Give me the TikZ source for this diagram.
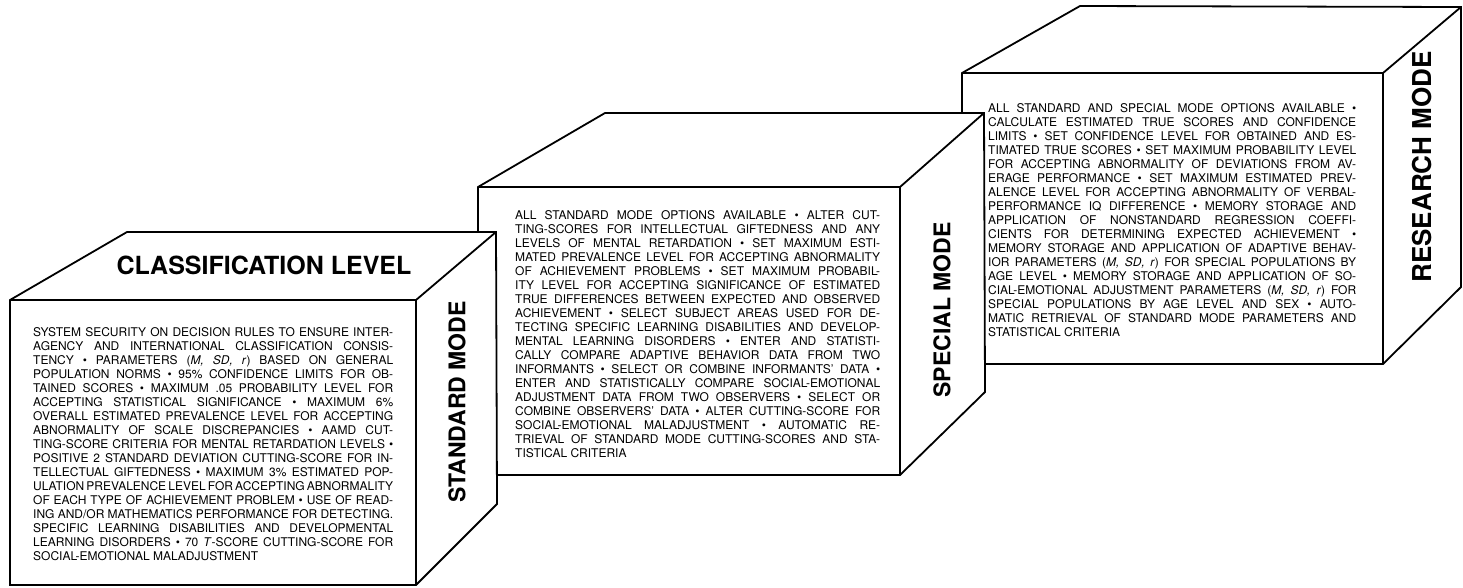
\documentclass[tikz,border=0pt]{standalone}
\usepackage{fontspec}
\setmainfont{TeX Gyre Heros}
\newlength\boxw
\newcommand\jline[1]{\hbox to \boxw{#1}}
\newcommand\lline[1]{\hbox{#1}}
\newcommand\txtset{\fontsize{12}{14}\selectfont\baselineskip=14pt\spaceskip=0.278em plus 1em minus 0.1em\relax}
\newcommand\msr{(\textit{M, SD, r})}
\begin{document}
\begin{tikzpicture}[x=1pt,y=-1pt,
  box/.style={draw, line width=1.8pt, fill=white, line join=miter},
  edge/.style={line width=1.8pt, line join=miter},
  title/.style={font=\fontsize{25}{30}\selectfont\bfseries, inner sep=0},
  mode/.style={font=\fontsize{23}{28}\selectfont\bfseries, rotate=90, inner sep=0},
  body/.style={anchor=base west, inner sep=0}]
\useasboundingbox (0,0) rectangle (1463,587);

% ---------- box 3 : research mode ----------
\coordinate (c3fl) at (962,364);
\coordinate (c3tl) at (962,73);
\coordinate (c3tr) at (1383,73);
\coordinate (c3br) at (1383,364);
\coordinate (c3btl) at (1080,6);
\coordinate (c3btr) at (1461,7);
\coordinate (c3bbr) at (1461,287);
\draw[box] (c3fl) -- (c3tl) -- (c3btl) -- (c3btr) -- (c3bbr) -- (c3br) -- cycle;
\draw[edge] (c3tl) -- (c3tr) -- (c3br);
\draw[edge] (c3tr) -- (c3btr);
\node[mode, font=\fontsize{26}{30}\selectfont\bfseries] (m3) at (1422,167) {RESEARCH MODE};
\node[body] (t3) at (988,112) {\vtop{\txtset\setlength\boxw{368pt}%
\jline{ALL STANDARD AND SPECIAL MODE OPTIONS AVAILABLE •}
\jline{CALCULATE ESTIMATED TRUE SCORES AND CONFIDENCE}
\jline{LIMITS • SET CONFIDENCE LEVEL FOR OBTAINED AND ES-}
\jline{TIMATED TRUE SCORES • SET MAXIMUM PROBABILITY LEVEL}
\jline{FOR ACCEPTING ABNORMALITY OF DEVIATIONS FROM AV-}
\jline{ERAGE PERFORMANCE • SET MAXIMUM ESTIMATED PREV-}
\jline{ALENCE LEVEL FOR ACCEPTING ABNORMALITY OF VERBAL-}
\jline{PERFORMANCE IQ DIFFERENCE • MEMORY STORAGE AND}
\jline{APPLICATION OF NONSTANDARD REGRESSION COEFFI-}
\jline{CIENTS FOR DETERMINING EXPECTED ACHIEVEMENT •}
\jline{MEMORY STORAGE AND APPLICATION OF ADAPTIVE BEHAV-}
\jline{IOR PARAMETERS \msr{} FOR SPECIAL POPULATIONS BY}
\jline{AGE LEVEL • MEMORY STORAGE AND APPLICATION OF SO-}
\jline{CIAL-EMOTIONAL ADJUSTMENT PARAMETERS \msr{} FOR}
\jline{SPECIAL POPULATIONS BY AGE LEVEL AND SEX • AUTO-}
\jline{MATIC RETRIEVAL OF STANDARD MODE PARAMETERS AND}
\lline{STATISTICAL CRITERIA}}};

% ---------- box 2 : special mode ----------
\coordinate (c2fl) at (478,475);
\coordinate (c2tl) at (478,187);
\coordinate (c2tr) at (900,187);
\coordinate (c2br) at (900,475);
\coordinate (c2btl) at (605,113);
\coordinate (c2btr) at (984,113);
\coordinate (c2bbr) at (985,392);
\draw[box] (c2fl) -- (c2tl) -- (c2btl) -- (c2btr) -- (c2bbr) -- (c2br) -- cycle;
\draw[edge] (c2tl) -- (c2tr) -- (c2br);
\draw[edge] (c2tr) -- (c2btr);
\node[mode] (m2) at (942,310) {SPECIAL MODE};
\node[body] (t2) at (515,219) {\vtop{\txtset\setlength\boxw{365pt}%
\jline{ALL STANDARD MODE OPTIONS AVAILABLE • ALTER CUT-}
\jline{TING-SCORES FOR INTELLECTUAL GIFTEDNESS AND ANY}
\jline{LEVELS OF MENTAL RETARDATION • SET MAXIMUM ESTI-}
\jline{MATED PREVALENCE LEVEL FOR ACCEPTING ABNORMALITY}
\jline{OF ACHIEVEMENT PROBLEMS • SET MAXIMUM PROBABIL-}
\jline{ITY LEVEL FOR ACCEPTING SIGNIFICANCE OF ESTIMATED}
\jline{TRUE DIFFERENCES BETWEEN EXPECTED AND OBSERVED}
\jline{ACHIEVEMENT • SELECT SUBJECT AREAS USED FOR DE-}
\jline{TECTING SPECIFIC LEARNING DISABILITIES AND DEVELOP-}
\jline{MENTAL LEARNING DISORDERS • ENTER AND STATISTI-}
\jline{CALLY COMPARE ADAPTIVE BEHAVIOR DATA FROM TWO}
\jline{INFORMANTS • SELECT OR COMBINE INFORMANTS' DATA •}
\jline{ENTER AND STATISTICALLY COMPARE SOCIAL-EMOTIONAL}
\jline{ADJUSTMENT DATA FROM TWO OBSERVERS • SELECT OR}
\jline{COMBINE OBSERVERS' DATA • ALTER CUTTING-SCORE FOR}
\jline{SOCIAL-EMOTIONAL MALADJUSTMENT • AUTOMATIC RE-}
\jline{TRIEVAL OF STANDARD MODE CUTTING-SCORES AND STA-}
\lline{TISTICAL CRITERIA}}};

% ---------- box 1 : standard mode ----------
\coordinate (c1fl) at (10,585);
\coordinate (c1tl) at (10,300);
\coordinate (c1tr) at (416,300);
\coordinate (c1br) at (416,585);
\coordinate (c1btl) at (127,232);
\coordinate (c1btr) at (496,232);
\coordinate (c1bbr) at (497,504);
\draw[box] (c1fl) -- (c1tl) -- (c1btl) -- (c1btr) -- (c1bbr) -- (c1br) -- cycle;
\draw[edge] (c1tl) -- (c1tr) -- (c1br);
\draw[edge] (c1tr) -- (c1btr);
\node[title] (cl) at (264,265) {CLASSIFICATION LEVEL};
\node[mode] (m1) at (457,402) {STANDARD MODE};
\node[body] (t1) at (33,336) {\vtop{\txtset\setlength\boxw{360pt}%
\jline{SYSTEM SECURITY ON DECISION RULES TO ENSURE INTER-}
\jline{AGENCY AND INTERNATIONAL CLASSIFICATION CONSIS-}
\jline{TENCY • PARAMETERS \msr{} BASED ON GENERAL}
\jline{POPULATION NORMS • 95\% CONFIDENCE LIMITS FOR OB-}
\jline{TAINED SCORES • MAXIMUM .05 PROBABILITY LEVEL FOR}
\jline{ACCEPTING STATISTICAL SIGNIFICANCE • MAXIMUM 6\%}
\jline{OVERALL ESTIMATED PREVALENCE LEVEL FOR ACCEPTING}
\jline{ABNORMALITY OF SCALE DISCREPANCIES • AAMD CUT-}
\jline{TING-SCORE CRITERIA FOR MENTAL RETARDATION LEVELS •}
\jline{POSITIVE 2 STANDARD DEVIATION CUTTING-SCORE FOR IN-}
\jline{TELLECTUAL GIFTEDNESS • MAXIMUM 3\% ESTIMATED POP-}
\jline{ULATION PREVALENCE LEVEL FOR ACCEPTING ABNORMALITY}
\jline{OF EACH TYPE OF ACHIEVEMENT PROBLEM • USE OF READ-}
\jline{ING AND/OR MATHEMATICS PERFORMANCE FOR DETECTING.}
\jline{SPECIFIC LEARNING DISABILITIES AND DEVELOPMENTAL}
\jline{LEARNING DISORDERS • 70 \textit{T}-SCORE CUTTING-SCORE FOR}
\lline{SOCIAL-EMOTIONAL MALADJUSTMENT}}};
\end{tikzpicture}
\end{document}
